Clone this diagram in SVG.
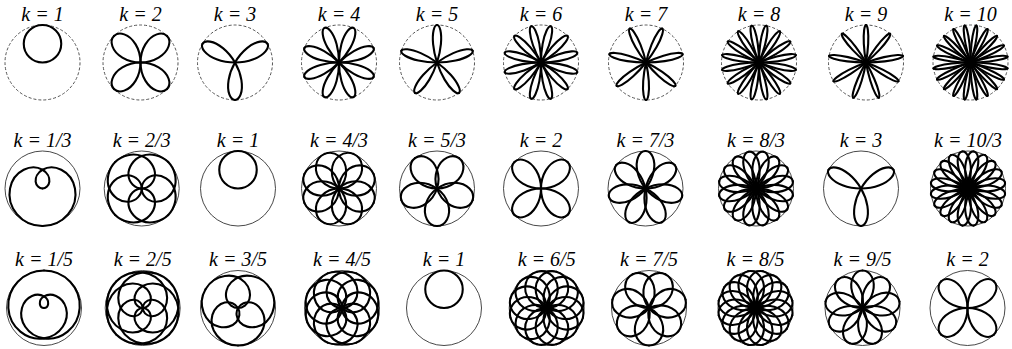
<svg xmlns="http://www.w3.org/2000/svg" width="1012" height="349" viewBox="0 0 1012 349">
<style>
.c{fill:none;stroke:#000;stroke-width:5.6;stroke-linejoin:round;stroke-linecap:round}
.rd{fill:none;stroke:#555;stroke-width:1;stroke-dasharray:3 2}
.rs{fill:none;stroke:#333;stroke-width:0.9}
text{font-family:"Liberation Serif",serif;font-style:italic;font-size:20px;text-anchor:middle;fill:#000}
</style>
<defs>
<path id="h2" d="M100,0 C100,8.727 94.038,17.373 83.652,22.414 C73.266,27.455 58.573,28.779 43.301,25 C28.029,21.221 12.341,12.341 0,0"/>
<path id="h3" d="M100,0 C100,5.818 94.756,11.592 85.287,15.039 C75.818,18.486 62.183,19.537 46.985,17.101 C31.787,14.665 15.115,8.727 0,0"/>
<path id="h4" d="M100,0 C100,4.363 95.007,8.696 85.862,11.304 C76.717,13.912 63.462,14.745 48.297,12.941 C33.132,11.137 16.125,6.679 0,0"/>
<path id="h5" d="M100,0 C100,3.491 95.123,6.959 86.128,9.053 C77.133,11.147 64.056,11.832 48.908,10.396 C33.76,8.96 16.599,5.393 0,0"/>
<path id="h6" d="M100,0 C100,2.909 95.187,5.8 86.273,7.548 C77.359,9.296 64.379,9.876 49.241,8.683 C34.103,7.49 16.858,4.517 0,0"/>
<path id="h7" d="M100,0 C100,2.493 95.225,4.971 86.361,6.472 C77.497,7.973 64.574,8.472 49.442,7.452 C34.31,6.432 17.015,3.884 0,0"/>
<path id="h8" d="M100,0 C100,2.182 95.25,4.35 86.418,5.664 C77.586,6.978 64.7,7.418 49.572,6.527 C34.444,5.636 17.118,3.405 0,0"/>
<path id="h9" d="M100,0 C100,1.939 95.267,3.865 86.457,5.035 C77.647,6.205 64.788,6.597 49.662,5.805 C34.536,5.013 17.188,3.031 0,0"/>
<path id="h10" d="M100,0 C100,1.745 95.278,3.481 86.484,4.533 C77.69,5.585 64.849,5.939 49.726,5.227 C34.603,4.515 17.238,2.73 0,0"/>
<path id="h1_3" d="M100,0 C100,26.18 87.78,52.018 68.302,68.302 C48.824,84.586 22.672,90.966 0,86.603 C-22.672,82.24 -41.273,67.453 -50,50 C-58.727,32.547 -57.558,13.09 -50,0 C-42.442,-13.09 -29.053,-19.47 -18.301,-18.301 C-7.549,-17.132 0,-8.727 0,0"/>
<path id="h2_3" d="M100,0 C100,26.18 83.44,51.376 61.237,61.237 C39.034,71.098 13.09,65.115 0,50 C-13.09,34.885 -12.341,12.341 0,0"/>
<path id="h4_3" d="M100,0 C100,13.09 92.412,26.009 80.011,33.142 C67.61,40.275 50.671,41.415 35.355,35.355 C20.039,29.295 6.679,16.125 0,0"/>
<path id="h5_3" d="M100,0 C100,10.472 93.468,20.834 82.365,26.762 C71.262,32.69 55.757,34.037 40.451,29.389 C25.145,24.741 10.259,14.12 0,0"/>
<path id="h7_3" d="M100,0 C100,7.48 94.381,14.897 84.432,19.271 C74.483,23.645 60.29,24.882 45.049,21.694 C29.808,18.506 13.645,10.882 0,0"/>
<path id="h8_3" d="M100,0 C100,6.545 94.604,13.039 84.939,16.895 C75.274,20.751 61.411,21.894 46.194,19.134 C30.977,16.374 14.512,9.696 0,0"/>
<path id="h10_3" d="M100,0 C100,5.236 94.866,10.433 85.537,13.547 C76.208,16.661 62.737,17.632 47.553,15.451 C32.369,13.27 15.551,7.924 0,0"/>
<path id="h1_5" d="M100,0 C100,26.18 88.704,52.136 69.841,69.841 C50.978,87.546 24.899,96.724 0,95.106 C-24.899,93.488 -48.19,81.179 -63.004,63.004 C-77.818,44.829 -83.98,21.18 -80.902,0 C-77.824,-21.18 -65.708,-39.528 -50,-50 C-34.292,-60.472 -15.388,-63.015 0,-58.779 C15.388,-54.543 26.997,-43.805 32.102,-32.102 C37.207,-20.399 35.882,-8.09 30.902,0 C25.922,8.09 17.614,11.822 11.061,11.061 C4.508,10.3 0,5.236 0,0"/>
<path id="h2_5" d="M100,0 C100,26.18 87.144,51.932 67.25,67.25 C47.356,82.568 21.18,87.057 0,80.902 C-21.18,74.747 -36.672,58.435 -41.563,41.563 C-46.454,24.691 -40.862,8.09 -30.902,0 C-20.942,-8.09 -7.405,-7.405 0,0"/>
<path id="h3_5" d="M100,0 C100,21.817 89.54,43.301 73.296,56.242 C57.052,69.183 35.598,73.25 18.301,68.302 C1.004,63.354 -11.56,49.723 -14.645,35.355 C-17.73,20.987 -11.336,6.545 0,0"/>
<path id="h4_5" d="M100,0 C100,21.817 87.132,43.044 68.706,52.72 C50.28,62.396 27.39,60.074 12.941,48.297 C-1.508,36.52 -6.679,16.125 0,0"/>
<path id="h6_5" d="M100,0 C100,14.544 91.721,28.872 78.489,36.6 C65.257,44.328 47.427,45.206 32.14,38.302 C16.853,31.398 4.517,16.858 0,0"/>
<path id="h7_5" d="M100,0 C100,12.466 92.68,24.779 80.613,31.64 C68.546,38.501 51.973,39.72 36.653,34.009 C21.333,28.298 7.572,15.725 0,0"/>
<path id="h8_5" d="M100,0 C100,10.908 93.308,21.697 82.007,27.838 C70.706,33.979 54.979,35.312 39.668,30.438 C24.357,25.564 9.696,14.512 0,0"/>
<path id="h9_5" d="M100,0 C100,9.696 93.733,19.297 82.965,24.838 C72.197,30.379 57.068,31.732 41.775,27.476 C26.482,23.22 11.219,13.37 0,0"/>

<g id="p2"><use href="#h2"/><use href="#h2" transform="scale(1,-1)"/></g>
<g id="p3"><use href="#h3"/><use href="#h3" transform="scale(1,-1)"/></g>
<g id="p4"><use href="#h4"/><use href="#h4" transform="scale(1,-1)"/></g>
<g id="p5"><use href="#h5"/><use href="#h5" transform="scale(1,-1)"/></g>
<g id="p6"><use href="#h6"/><use href="#h6" transform="scale(1,-1)"/></g>
<g id="p7"><use href="#h7"/><use href="#h7" transform="scale(1,-1)"/></g>
<g id="p8"><use href="#h8"/><use href="#h8" transform="scale(1,-1)"/></g>
<g id="p9"><use href="#h9"/><use href="#h9" transform="scale(1,-1)"/></g>
<g id="p10"><use href="#h10"/><use href="#h10" transform="scale(1,-1)"/></g>
<g id="p1_3"><use href="#h1_3"/><use href="#h1_3" transform="scale(1,-1)"/></g>
<g id="p2_3"><use href="#h2_3"/><use href="#h2_3" transform="scale(1,-1)"/></g>
<g id="p4_3"><use href="#h4_3"/><use href="#h4_3" transform="scale(1,-1)"/></g>
<g id="p5_3"><use href="#h5_3"/><use href="#h5_3" transform="scale(1,-1)"/></g>
<g id="p7_3"><use href="#h7_3"/><use href="#h7_3" transform="scale(1,-1)"/></g>
<g id="p8_3"><use href="#h8_3"/><use href="#h8_3" transform="scale(1,-1)"/></g>
<g id="p10_3"><use href="#h10_3"/><use href="#h10_3" transform="scale(1,-1)"/></g>
<g id="p1_5"><use href="#h1_5"/><use href="#h1_5" transform="scale(1,-1)"/></g>
<g id="p2_5"><use href="#h2_5"/><use href="#h2_5" transform="scale(1,-1)"/></g>
<g id="p3_5"><use href="#h3_5"/><use href="#h3_5" transform="scale(1,-1)"/></g>
<g id="p4_5"><use href="#h4_5"/><use href="#h4_5" transform="scale(1,-1)"/></g>
<g id="p6_5"><use href="#h6_5"/><use href="#h6_5" transform="scale(1,-1)"/></g>
<g id="p7_5"><use href="#h7_5"/><use href="#h7_5" transform="scale(1,-1)"/></g>
<g id="p8_5"><use href="#h8_5"/><use href="#h8_5" transform="scale(1,-1)"/></g>
<g id="p9_5"><use href="#h9_5"/><use href="#h9_5" transform="scale(1,-1)"/></g>

<g id="k1"><circle cx="0" cy="50" r="50"/></g>
<g id="k2"><use href="#p2" transform="rotate(45)"/><use href="#p2" transform="rotate(135)"/><use href="#p2" transform="rotate(225)"/><use href="#p2" transform="rotate(315)"/></g>
<g id="k3"><use href="#p3" transform="rotate(30)"/><use href="#p3" transform="rotate(150)"/><use href="#p3" transform="rotate(270)"/></g>
<g id="k4"><use href="#p4" transform="rotate(22.5)"/><use href="#p4" transform="rotate(67.5)"/><use href="#p4" transform="rotate(112.5)"/><use href="#p4" transform="rotate(157.5)"/><use href="#p4" transform="rotate(202.5)"/><use href="#p4" transform="rotate(247.5)"/><use href="#p4" transform="rotate(292.5)"/><use href="#p4" transform="rotate(337.5)"/></g>
<g id="k5"><use href="#p5" transform="rotate(18)"/><use href="#p5" transform="rotate(90)"/><use href="#p5" transform="rotate(162)"/><use href="#p5" transform="rotate(234)"/><use href="#p5" transform="rotate(306)"/></g>
<g id="k6"><use href="#p6" transform="rotate(15)"/><use href="#p6" transform="rotate(45)"/><use href="#p6" transform="rotate(75)"/><use href="#p6" transform="rotate(105)"/><use href="#p6" transform="rotate(135)"/><use href="#p6" transform="rotate(165)"/><use href="#p6" transform="rotate(195)"/><use href="#p6" transform="rotate(225)"/><use href="#p6" transform="rotate(255)"/><use href="#p6" transform="rotate(285)"/><use href="#p6" transform="rotate(315)"/><use href="#p6" transform="rotate(345)"/></g>
<g id="k7"><use href="#p7" transform="rotate(12.857)"/><use href="#p7" transform="rotate(64.286)"/><use href="#p7" transform="rotate(115.714)"/><use href="#p7" transform="rotate(167.143)"/><use href="#p7" transform="rotate(218.571)"/><use href="#p7" transform="rotate(270)"/><use href="#p7" transform="rotate(321.429)"/></g>
<g id="k8"><use href="#p8" transform="rotate(11.25)"/><use href="#p8" transform="rotate(33.75)"/><use href="#p8" transform="rotate(56.25)"/><use href="#p8" transform="rotate(78.75)"/><use href="#p8" transform="rotate(101.25)"/><use href="#p8" transform="rotate(123.75)"/><use href="#p8" transform="rotate(146.25)"/><use href="#p8" transform="rotate(168.75)"/><use href="#p8" transform="rotate(191.25)"/><use href="#p8" transform="rotate(213.75)"/><use href="#p8" transform="rotate(236.25)"/><use href="#p8" transform="rotate(258.75)"/><use href="#p8" transform="rotate(281.25)"/><use href="#p8" transform="rotate(303.75)"/><use href="#p8" transform="rotate(326.25)"/><use href="#p8" transform="rotate(348.75)"/></g>
<g id="k9"><use href="#p9" transform="rotate(10)"/><use href="#p9" transform="rotate(50)"/><use href="#p9" transform="rotate(90)"/><use href="#p9" transform="rotate(130)"/><use href="#p9" transform="rotate(170)"/><use href="#p9" transform="rotate(210)"/><use href="#p9" transform="rotate(250)"/><use href="#p9" transform="rotate(290)"/><use href="#p9" transform="rotate(330)"/></g>
<g id="k10"><use href="#p10" transform="rotate(9)"/><use href="#p10" transform="rotate(27)"/><use href="#p10" transform="rotate(45)"/><use href="#p10" transform="rotate(63)"/><use href="#p10" transform="rotate(81)"/><use href="#p10" transform="rotate(99)"/><use href="#p10" transform="rotate(117)"/><use href="#p10" transform="rotate(135)"/><use href="#p10" transform="rotate(153)"/><use href="#p10" transform="rotate(171)"/><use href="#p10" transform="rotate(189)"/><use href="#p10" transform="rotate(207)"/><use href="#p10" transform="rotate(225)"/><use href="#p10" transform="rotate(243)"/><use href="#p10" transform="rotate(261)"/><use href="#p10" transform="rotate(279)"/><use href="#p10" transform="rotate(297)"/><use href="#p10" transform="rotate(315)"/><use href="#p10" transform="rotate(333)"/><use href="#p10" transform="rotate(351)"/></g>

<g id="k1_3"><use href="#p1_3" transform="rotate(270)"/></g>
<g id="k2_3"><use href="#p2_3" transform="rotate(45)"/><use href="#p2_3" transform="rotate(135)"/><use href="#p2_3" transform="rotate(225)"/><use href="#p2_3" transform="rotate(315)"/></g>
<g id="k4_3"><use href="#p4_3" transform="rotate(22.5)"/><use href="#p4_3" transform="rotate(67.5)"/><use href="#p4_3" transform="rotate(112.5)"/><use href="#p4_3" transform="rotate(157.5)"/><use href="#p4_3" transform="rotate(202.5)"/><use href="#p4_3" transform="rotate(247.5)"/><use href="#p4_3" transform="rotate(292.5)"/><use href="#p4_3" transform="rotate(337.5)"/></g>
<g id="k5_3"><use href="#p5_3" transform="rotate(54)"/><use href="#p5_3" transform="rotate(126)"/><use href="#p5_3" transform="rotate(198)"/><use href="#p5_3" transform="rotate(270)"/><use href="#p5_3" transform="rotate(342)"/></g>
<g id="k7_3"><use href="#p7_3" transform="rotate(38.571)"/><use href="#p7_3" transform="rotate(90)"/><use href="#p7_3" transform="rotate(141.429)"/><use href="#p7_3" transform="rotate(192.857)"/><use href="#p7_3" transform="rotate(244.286)"/><use href="#p7_3" transform="rotate(295.714)"/><use href="#p7_3" transform="rotate(347.143)"/></g>
<g id="k8_3"><use href="#p8_3" transform="rotate(11.25)"/><use href="#p8_3" transform="rotate(33.75)"/><use href="#p8_3" transform="rotate(56.25)"/><use href="#p8_3" transform="rotate(78.75)"/><use href="#p8_3" transform="rotate(101.25)"/><use href="#p8_3" transform="rotate(123.75)"/><use href="#p8_3" transform="rotate(146.25)"/><use href="#p8_3" transform="rotate(168.75)"/><use href="#p8_3" transform="rotate(191.25)"/><use href="#p8_3" transform="rotate(213.75)"/><use href="#p8_3" transform="rotate(236.25)"/><use href="#p8_3" transform="rotate(258.75)"/><use href="#p8_3" transform="rotate(281.25)"/><use href="#p8_3" transform="rotate(303.75)"/><use href="#p8_3" transform="rotate(326.25)"/><use href="#p8_3" transform="rotate(348.75)"/></g>
<g id="k10_3"><use href="#p10_3" transform="rotate(9)"/><use href="#p10_3" transform="rotate(27)"/><use href="#p10_3" transform="rotate(45)"/><use href="#p10_3" transform="rotate(63)"/><use href="#p10_3" transform="rotate(81)"/><use href="#p10_3" transform="rotate(99)"/><use href="#p10_3" transform="rotate(117)"/><use href="#p10_3" transform="rotate(135)"/><use href="#p10_3" transform="rotate(153)"/><use href="#p10_3" transform="rotate(171)"/><use href="#p10_3" transform="rotate(189)"/><use href="#p10_3" transform="rotate(207)"/><use href="#p10_3" transform="rotate(225)"/><use href="#p10_3" transform="rotate(243)"/><use href="#p10_3" transform="rotate(261)"/><use href="#p10_3" transform="rotate(279)"/><use href="#p10_3" transform="rotate(297)"/><use href="#p10_3" transform="rotate(315)"/><use href="#p10_3" transform="rotate(333)"/><use href="#p10_3" transform="rotate(351)"/></g>

<g id="k1_5"><use href="#p1_5" transform="rotate(90)"/></g>
<g id="k2_5"><use href="#p2_5" transform="rotate(45)"/><use href="#p2_5" transform="rotate(135)"/><use href="#p2_5" transform="rotate(225)"/><use href="#p2_5" transform="rotate(315)"/></g>
<g id="k3_5"><use href="#p3_5" transform="rotate(30)"/><use href="#p3_5" transform="rotate(150)"/><use href="#p3_5" transform="rotate(270)"/></g>
<g id="k4_5"><use href="#p4_5" transform="rotate(22.5)"/><use href="#p4_5" transform="rotate(67.5)"/><use href="#p4_5" transform="rotate(112.5)"/><use href="#p4_5" transform="rotate(157.5)"/><use href="#p4_5" transform="rotate(202.5)"/><use href="#p4_5" transform="rotate(247.5)"/><use href="#p4_5" transform="rotate(292.5)"/><use href="#p4_5" transform="rotate(337.5)"/></g>
<g id="k6_5"><use href="#p6_5" transform="rotate(15)"/><use href="#p6_5" transform="rotate(45)"/><use href="#p6_5" transform="rotate(75)"/><use href="#p6_5" transform="rotate(105)"/><use href="#p6_5" transform="rotate(135)"/><use href="#p6_5" transform="rotate(165)"/><use href="#p6_5" transform="rotate(195)"/><use href="#p6_5" transform="rotate(225)"/><use href="#p6_5" transform="rotate(255)"/><use href="#p6_5" transform="rotate(285)"/><use href="#p6_5" transform="rotate(315)"/><use href="#p6_5" transform="rotate(345)"/></g>
<g id="k7_5"><use href="#p7_5" transform="rotate(12.857)"/><use href="#p7_5" transform="rotate(64.286)"/><use href="#p7_5" transform="rotate(115.714)"/><use href="#p7_5" transform="rotate(167.143)"/><use href="#p7_5" transform="rotate(218.571)"/><use href="#p7_5" transform="rotate(270)"/><use href="#p7_5" transform="rotate(321.429)"/></g>
<g id="k8_5"><use href="#p8_5" transform="rotate(11.25)"/><use href="#p8_5" transform="rotate(33.75)"/><use href="#p8_5" transform="rotate(56.25)"/><use href="#p8_5" transform="rotate(78.75)"/><use href="#p8_5" transform="rotate(101.25)"/><use href="#p8_5" transform="rotate(123.75)"/><use href="#p8_5" transform="rotate(146.25)"/><use href="#p8_5" transform="rotate(168.75)"/><use href="#p8_5" transform="rotate(191.25)"/><use href="#p8_5" transform="rotate(213.75)"/><use href="#p8_5" transform="rotate(236.25)"/><use href="#p8_5" transform="rotate(258.75)"/><use href="#p8_5" transform="rotate(281.25)"/><use href="#p8_5" transform="rotate(303.75)"/><use href="#p8_5" transform="rotate(326.25)"/><use href="#p8_5" transform="rotate(348.75)"/></g>
<g id="k9_5"><use href="#p9_5" transform="rotate(10)"/><use href="#p9_5" transform="rotate(50)"/><use href="#p9_5" transform="rotate(90)"/><use href="#p9_5" transform="rotate(130)"/><use href="#p9_5" transform="rotate(170)"/><use href="#p9_5" transform="rotate(210)"/><use href="#p9_5" transform="rotate(250)"/><use href="#p9_5" transform="rotate(290)"/><use href="#p9_5" transform="rotate(330)"/></g>
</defs>

<rect width="1012" height="349" fill="#fff"/>

<g id="row1">
<g id="r1k1" transform="translate(42.5,62.5)"><circle class="rd" r="37.5"/><use class="c" href="#k1" transform="scale(.375,-.375)"/><text y="-42">k = 1</text></g>
<g id="r1k2" transform="translate(140.5,62.5)"><circle class="rd" r="37.5"/><use class="c" href="#k2" transform="scale(.375,-.375)"/><text y="-42">k = 2</text></g>
<g id="r1k3" transform="translate(235,62.5)"><circle class="rd" r="37.5"/><use class="c" href="#k3" transform="scale(.375,-.375)"/><text y="-42">k = 3</text></g>
<g id="r1k4" transform="translate(339,62.5)"><circle class="rd" r="37.5"/><use class="c" href="#k4" transform="scale(.375,-.375)"/><text y="-42">k = 4</text></g>
<g id="r1k5" transform="translate(437,62.5)"><circle class="rd" r="37.5"/><use class="c" href="#k5" transform="scale(.375,-.375)"/><text y="-42">k = 5</text></g>
<g id="r1k6" transform="translate(541,62.5)"><circle class="rd" r="37.5"/><use class="c" href="#k6" transform="scale(.375,-.375)"/><text y="-42">k = 6</text></g>
<g id="r1k7" transform="translate(646,62.5)"><circle class="rd" r="37.5"/><use class="c" href="#k7" transform="scale(.375,-.375)"/><text y="-42">k = 7</text></g>
<g id="r1k8" transform="translate(759,62.5)"><circle class="rd" r="37.5"/><use class="c" href="#k8" transform="scale(.375,-.375)"/><text y="-42">k = 8</text></g>
<g id="r1k9" transform="translate(866,62.5)"><circle class="rd" r="37.5"/><use class="c" href="#k9" transform="scale(.375,-.375)"/><text y="-42">k = 9</text></g>
<g id="r1k10" transform="translate(970.5,62.5)"><circle class="rd" r="37.5"/><use class="c" href="#k10" transform="scale(.375,-.375)"/><text y="-42">k = 10</text></g>
</g>

<g id="row2">
<g id="r2k1_3" transform="translate(42.5,188.5)"><circle class="rs" r="37.5"/><use class="c" href="#k1_3" transform="scale(.375,-.375)"/><text y="-42">k = 1/3</text></g>
<g id="r2k2_3" transform="translate(141.7,188.5)"><circle class="rs" r="37.5"/><use class="c" href="#k2_3" transform="scale(.375,-.375)"/><text y="-42">k = 2/3</text></g>
<g id="r2k1" transform="translate(238,188.5)"><circle class="rs" r="37.5"/><use class="c" href="#k1" transform="scale(.375,-.375)"/><text y="-42">k = 1</text></g>
<g id="r2k4_3" transform="translate(339,188.5)"><circle class="rs" r="37.5"/><use class="c" href="#k4_3" transform="scale(.375,-.375)"/><text y="-42">k = 4/3</text></g>
<g id="r2k5_3" transform="translate(437,188.5)"><circle class="rs" r="37.5"/><use class="c" href="#k5_3" transform="scale(.375,-.375)"/><text y="-42">k = 5/3</text></g>
<g id="r2k2" transform="translate(541,188.5)"><circle class="rs" r="37.5"/><use class="c" href="#k2" transform="scale(.375,-.375)"/><text y="-42">k = 2</text></g>
<g id="r2k7_3" transform="translate(645.5,188.5)"><circle class="rs" r="37.5"/><use class="c" href="#k7_3" transform="scale(.375,-.375)"/><text y="-42">k = 7/3</text></g>
<g id="r2k8_3" transform="translate(756,188.5)"><circle class="rs" r="37.5"/><use class="c" href="#k8_3" transform="scale(.375,-.375)"/><text y="-42">k = 8/3</text></g>
<g id="r2k3" transform="translate(861,188.5)"><circle class="rs" r="37.5"/><use class="c" href="#k3" transform="scale(.375,-.375)"/><text y="-42">k = 3</text></g>
<g id="r2k10_3" transform="translate(968,188.5)"><circle class="rs" r="37.5"/><use class="c" href="#k10_3" transform="scale(.375,-.375)"/><text y="-42">k = 10/3</text></g>
</g>

<g id="row3">
<g id="r3k1_5" transform="translate(44,308)"><circle class="rs" r="37.5"/><use class="c" href="#k1_5" transform="scale(.375,-.375)"/><text y="-42">k = 1/5</text></g>
<g id="r3k2_5" transform="translate(142.7,308)"><circle class="rs" r="37.5"/><use class="c" href="#k2_5" transform="scale(.375,-.375)"/><text y="-42">k = 2/5</text></g>
<g id="r3k3_5" transform="translate(238,308)"><circle class="rs" r="37.5"/><use class="c" href="#k3_5" transform="scale(.375,-.375)"/><text y="-42">k = 3/5</text></g>
<g id="r3k4_5" transform="translate(342,308)"><circle class="rs" r="37.5"/><use class="c" href="#k4_5" transform="scale(.375,-.375)"/><text y="-42">k = 4/5</text></g>
<g id="r3k1" transform="translate(444,308)"><circle class="rs" r="37.5"/><use class="c" href="#k1" transform="scale(.375,-.375)"/><text y="-42">k = 1</text></g>
<g id="r3k6_5" transform="translate(546.7,308)"><circle class="rs" r="37.5"/><use class="c" href="#k6_5" transform="scale(.375,-.375)"/><text y="-42">k = 6/5</text></g>
<g id="r3k7_5" transform="translate(649,308)"><circle class="rs" r="37.5"/><use class="c" href="#k7_5" transform="scale(.375,-.375)"/><text y="-42">k = 7/5</text></g>
<g id="r3k8_5" transform="translate(755.5,308)"><circle class="rs" r="37.5"/><use class="c" href="#k8_5" transform="scale(.375,-.375)"/><text y="-42">k = 8/5</text></g>
<g id="r3k9_5" transform="translate(862.5,308)"><circle class="rs" r="37.5"/><use class="c" href="#k9_5" transform="scale(.375,-.375)"/><text y="-42">k = 9/5</text></g>
<g id="r3k2" transform="translate(967.5,308)"><circle class="rs" r="37.5"/><use class="c" href="#k2" transform="scale(.375,-.375)"/><text y="-42">k = 2</text></g>
</g>
</svg>
